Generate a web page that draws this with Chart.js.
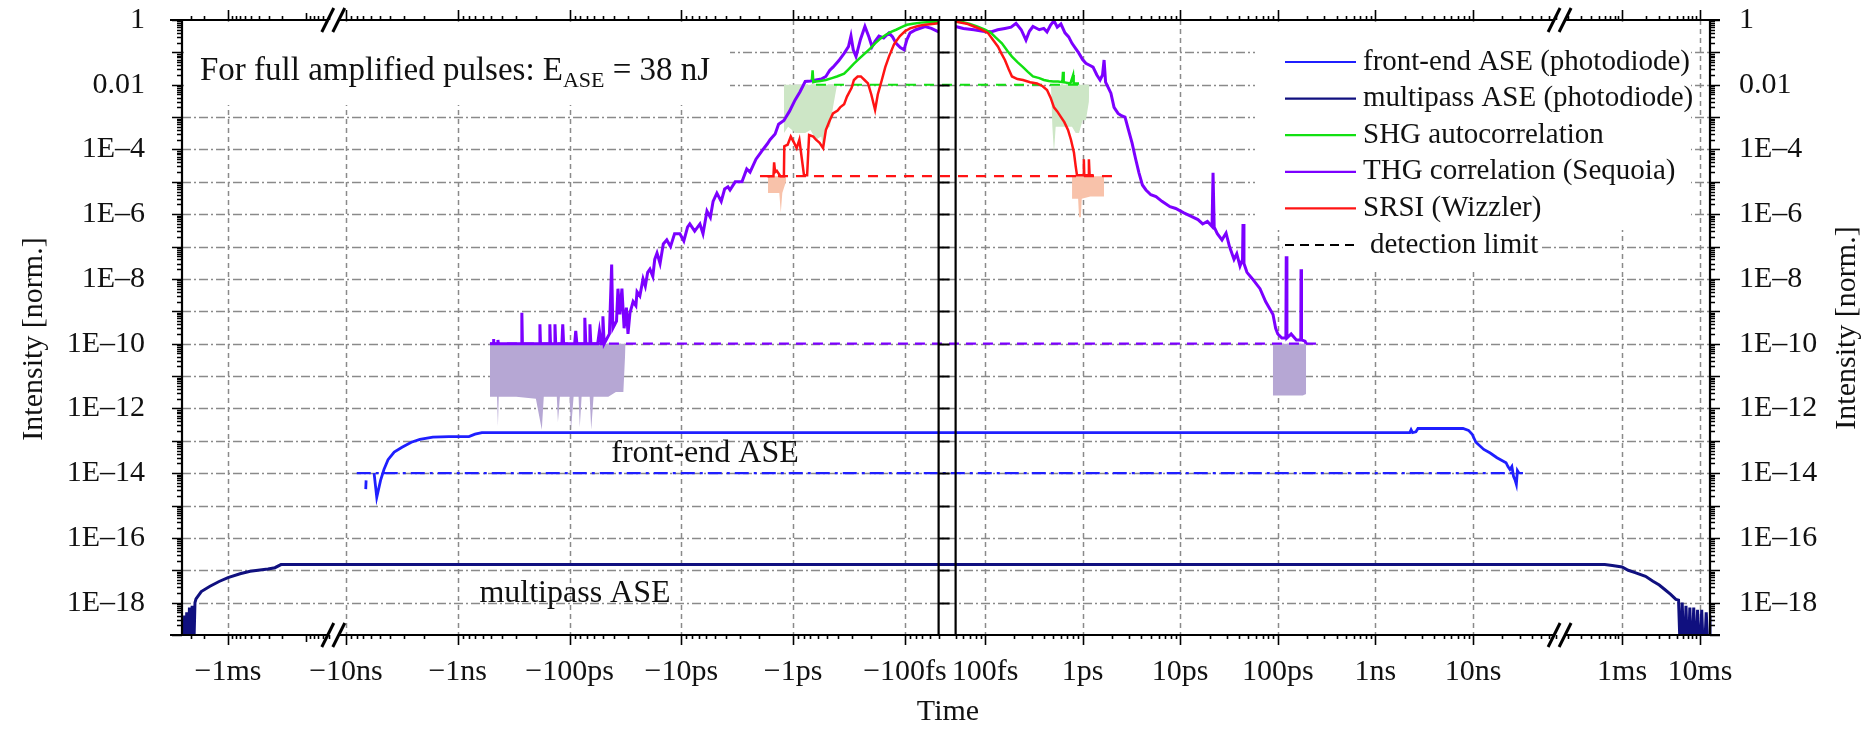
<!DOCTYPE html>
<html>
<head>
<meta charset="utf-8">
<script src="https://cdn.jsdelivr.net/npm/chart.js@4.4.1/dist/chart.umd.min.js"></script>
<style>
html,body{margin:0;padding:0;background:#fff;}
canvas{display:block;}
</style>
</head>
<body>
<canvas id="c" width="1876" height="729"></canvas>
<script>
// ---------------- DATA (time in ps, intensity normalised) ----------------
const xTickTimes  = [-1e9, -1e4, -1e3, -100, -10, -1, -0.1, 0.1, 1, 10, 100, 1e3, 1e4, 1e9, 1e10];
const xTickLabels = ['\u22121ms','\u221210ns','\u22121ns','\u2212100ps','\u221210ps','\u22121ps','\u2212100fs','100fs','1ps','10ps','100ps','1ns','10ns','1ms','10ms'];
const yTickValues = [1,1e-2,1e-4,1e-6,1e-8,1e-10,1e-12,1e-14,1e-16,1e-18];
const yTickLabels = ['1','0.01','1E\u20134','1E\u20136','1E\u20138','1E\u201310','1E\u201312','1E\u201314','1E\u201316','1E\u201318'];
const seriesLabels = ['front-end ASE (photodiode)','multipass ASE (photodiode)','SHG autocorrelation','THG correlation (Sequoia)','SRSI (Wizzler)','detection limit'];

const frontEndASE = [
 [-6650,3.2e-15],[-6600,6e-15],[-6000,null],[-5600,1e-14],[-5300,1.8e-15],[-4900,6e-15],[-4570,1.3e-14],
 [-4200,2.6e-14],[-3700,4.5e-14],[-3150,6.3e-14],[-2600,9e-14],[-2180,1.1e-13],[-1670,1.3e-13],[-1200,1.35e-13],
 [-794,1.35e-13],[-700,1.6e-13],[-608,1.8e-13],[-0.05,1.8e-13],[0.05,1.8e-13],[2250,1.8e-13],[2320,2.2e-13],
 [2400,1.8e-13],[2600,1.9e-13],[2730,2.4e-13],[7900,2.4e-13],[9000,2.1e-13],[9800,1.6e-13],[10700,9e-14],
 [12900,5.4e-14],[15000,4.2e-14],[17600,3e-14],[21800,2.1e-14],[22800,1.6e-14],[23900,1.3e-14],[25000,1.6e-14],
 [26000,8e-15],[26900,6.3e-15],[27800,4.5e-15],[28500,1.2e-14],[29600,1e-14]
];
const multipassASE = [
 [-3.7e9,1e-20],[-3.6e9,4e-19],[-3.5e9,1e-20],[-3.38e9,5e-19],[-3.25e9,1e-20],[-3.12e9,7e-19],[-3.0e9,1e-20],
 [-2.88e9,8e-19],[-2.75e9,3e-20],[-2.65e9,1e-18],[-2.57e9,1.3e-18],[-2.2e9,2.2e-18],[-1.7e9,3.2e-18],[-1.3e9,4.5e-18],
 [-1.0e9,5.9e-18],[-7e8,7.8e-18],[-5.2e8,9.3e-18],[-3.07e8,1.1e-17],[-2.5e8,1.2e-17],[-2.09e8,1.5e-17],[-4.4e7,1.5e-17],
 [-1.28e4,1.5e-17],[-0.05,1.5e-17],[0.05,1.5e-17],[7.8e4,1.5e-17],[1.6e8,1.5e-17],[6.0e8,1.5e-17],[7.5e8,1.4e-17],
 [1.0e9,1.26e-17],[1.2e9,1.0e-17],[1.47e9,8.5e-18],[2.0e9,6.5e-18],[2.49e9,4.6e-18],[3.0e9,3.5e-18],[3.56e9,2.5e-18],
 [4.2e9,1.8e-18],[4.9e9,1.26e-18],[5.3e9,1.2e-18],[5.6e9,2e-20],[5.9e9,1e-18],[6.3e9,1e-20],[6.6e9,8e-19],[7.0e9,1e-20],
 [7.4e9,7e-19],[7.8e9,1e-20],[8.3e9,7e-19],[8.8e9,1e-20],[9.3e9,6e-19],[9.9e9,1e-20],[1.05e10,6e-19],[1.12e10,1e-20],
 [1.2e10,5e-19],[1.3e10,1e-20],[1.4e10,4e-19],[1.5e10,1e-20]
];
const shg = [
 [-0.68,0.014],[-0.67,0.028],[-0.66,0.012],[-0.625,0.0126],[-0.57,0.013],[-0.51,0.014],[-0.45,0.016],[-0.406,0.018],
 [-0.35,0.022],[-0.32,0.03],[-0.286,0.045],[-0.255,0.065],[-0.228,0.093],[-0.205,0.13],[-0.185,0.19],[-0.165,0.27],
 [-0.148,0.35],[-0.133,0.43],[-0.12,0.5],[-0.105,0.62],[-0.096,0.71],[-0.085,0.77],[-0.072,0.83],[-0.06,0.87],[-0.05,0.89],
 [0,null],
 [0.05,0.89],[0.06,0.85],[0.07,0.75],[0.083,0.63],[0.1,0.5],[0.115,0.4],[0.13,0.28],[0.149,0.19],[0.17,0.11],[0.189,0.074],
 [0.215,0.05],[0.245,0.035],[0.275,0.025],[0.31,0.018],[0.36,0.016],[0.402,0.014],[0.45,0.013],[0.5,0.0126],[0.56,0.0126],
 [0.62,0.012],[0.63,0.025],[0.64,0.012],[0.75,0.011],[0.8,0.02],[0.81,0.011],[0.919,0.011]
];
const thg = [
 [-515,1e-10],[-480,1e-10],[-478,1.4e-10],[-476,1e-10],[-440,1e-10],[-437,1.3e-10],[-434,1e-10],[-400,1e-10],[-340,1e-10],
 [-270,1e-10],[-267,9e-10],[-264,1e-10],[-230,1e-10],[-186,1e-10],[-184,4e-10],[-182,1e-10],[-152,1e-10],[-150,4e-10],
 [-148,1e-10],[-137,1e-10],[-135,4e-10],[-133,1e-10],[-117,1e-10],[-115,4e-10],[-113,1e-10],[-90,1e-10],[-88,2.5e-10],
 [-86,1e-10],[-74,1e-10],[-73,6.3e-10],[-71.5,1e-10],[-66.5,1e-10],[-65.7,4e-10],[-64.5,1e-10],[-56,1e-10],[-54,2.5e-10],
 [-52,1e-10],[-50.5,1e-10],[-50.3,7e-10],[-49,1e-10],[-44,2e-10],[-42,2.8e-8],[-41,3e-10],[-38,5e-10],[-36.9,5e-9],
 [-35.5,8e-10],[-34,5e-9],[-32.5,3e-10],[-31,1.3e-9],[-30,2e-10],[-28.8,9e-10],[-27,2e-9],[-25.5,1.5e-9],[-24.9,4e-9],
 [-23.5,3e-9],[-22,1e-8],[-21,6e-9],[-20,1.6e-8],[-19.1,2e-8],[-18,1.2e-8],[-17.3,4e-8],[-16.5,6.3e-8],[-15.5,3e-8],
 [-14.5,1.2e-7],[-13.5,1.6e-7],[-12.5,1e-7],[-11.5,2.5e-7],[-10.3,2.5e-7],[-9.5,1.5e-7],[-8.8,4e-7],[-8.4,5e-7],[-7.6,3e-7],
 [-6.82,5e-7],[-6.4,2.5e-7],[-5.9,1.26e-6],[-5.5,8e-7],[-5.2,2.5e-6],[-4.81,4.5e-6],[-4.4,2.5e-6],[-4.1,6e-6],[-3.83,7e-6],
 [-3.67,5.6e-6],[-3.3,1e-5],[-2.99,1e-5],[-2.87,1e-5],[-2.6,2.5e-5],[-2.43,2e-5],[-2.15,5e-5],[-1.95,8e-5],[-1.86,1e-4],
 [-1.7,1.5e-4],[-1.61,2e-4],[-1.45,3e-4],[-1.35,6e-4],[-1.21,7.9e-4],[-1.08,1.5e-3],[-0.96,3.4e-3],[-0.87,6e-3],
 [-0.78,1.26e-2],[-0.7,1.3e-2],[-0.625,1.4e-2],[-0.56,1.5e-2],[-0.51,1.8e-2],[-0.47,2.8e-2],[-0.44,3.5e-2],[-0.39,5.6e-2],
 [-0.35,9.3e-2],[-0.32,0.15],[-0.304,0.32],[-0.29,0.12],[-0.274,0.074],[-0.25,0.25],[-0.228,0.63],[-0.21,0.3],[-0.197,0.15],
 [-0.185,0.22],[-0.171,0.32],[-0.155,0.28],[-0.139,0.4],[-0.129,0.3],[-0.12,0.19],[-0.11,0.14],[-0.102,0.12],[-0.096,0.25],
 [-0.09,0.4],[-0.08,0.5],[-0.066,0.63],[-0.058,0.55],[-0.05,0.43],
 [0,null],
 [0.05,0.63],[0.06,0.55],[0.077,0.5],[0.095,0.45],[0.115,0.43],[0.135,0.5],[0.16,0.55],[0.185,0.6],[0.208,0.79],[0.235,0.5],
 [0.263,0.24],[0.285,0.45],[0.31,0.63],[0.36,0.5],[0.4,0.55],[0.432,0.43],[0.47,0.7],[0.509,0.95],[0.55,0.6],[0.6,0.75],
 [0.66,0.4],[0.72,0.3],[0.779,0.19],[0.85,0.13],[0.919,0.093],[1.0,0.06],[1.08,0.046],[1.18,0.04],[1.28,0.035],[1.4,0.02],
 [1.51,0.014],[1.6,0.02],[1.66,0.058],[1.72,0.012],[1.95,0.0055],[2.1,0.002],[2.31,0.0013],[2.5,0.0011],[2.72,0.001],
 [2.95,4e-4],[3.21,1.6e-4],[3.5,5e-5],[3.78,1.9e-5],[4.1,8e-6],[4.46,5.6e-6],[5.0,4e-6],[5.65,3.5e-6],[6.5,2.5e-6],
 [7.86,1.7e-6],[9.0,1.5e-6],[10.9,1.1e-6],[12.5,9e-7],[15.2,6.8e-7],[17,5e-7],[19,6e-7],[21.2,4.2e-7],[21.7,1.9e-5],
 [22.3,4e-7],[24,2.5e-7],[26.8,1.6e-7],[28,2e-7],[29.5,2.6e-7],[32,1e-7],[35.6,4e-8],[38,6e-8],[41,2.5e-8],[43.5,4e-8],
 [44,5e-7],[45,3e-8],[48.3,1.6e-8],[55,1e-8],[65.7,5e-9],[75,2e-9],[89.3,8e-10],[95,3e-10],[100,2e-10],[110,1.5e-10],
 [121,1.5e-10],[122,5e-8],[124,1.5e-10],[137,2e-10],[155,1.3e-10],[172,1.3e-10],[173,2e-8],[175,1.3e-10],[190,1.2e-10],[195,1e-10]
];
const srsi = [
 [-1.7,1.5e-5],[-1.5,1.5e-5],[-1.48,4e-5],[-1.45,2e-5],[-1.4,2.2e-5],[-1.3,1.5e-5],[-1.21,1.5e-5],[-1.2,1.26e-4],
 [-1.12,1.4e-4],[-1.05,2.5e-4],[-0.98,1.6e-4],[-0.93,1.1e-4],[-0.88,2e-4],[-0.8,1.6e-5],[-0.75,1.6e-5],[-0.72,2.8e-4],
 [-0.66,2.5e-4],[-0.625,2e-4],[-0.58,1.6e-4],[-0.54,1.1e-4],[-0.51,4e-4],[-0.47,8e-4],[-0.44,1.3e-3],[-0.4,1.6e-3],
 [-0.38,2e-3],[-0.35,2.5e-3],[-0.33,4.3e-3],[-0.3,8e-3],[-0.286,0.014],[-0.265,0.018],[-0.248,0.018],[-0.23,0.014],
 [-0.214,0.011],[-0.2,0.005],[-0.185,0.00166],[-0.175,0.005],[-0.161,0.014],[-0.15,0.035],[-0.139,0.074],[-0.125,0.18],
 [-0.111,0.32],[-0.1,0.45],[-0.09,0.55],[-0.075,0.66],[-0.066,0.71],[-0.05,0.79],
 [0,null],
 [0.05,0.89],[0.065,0.77],[0.077,0.63],[0.09,0.52],[0.107,0.4],[0.12,0.25],[0.136,0.15],[0.148,0.09],[0.16,0.058],
 [0.175,0.03],[0.189,0.018],[0.215,0.015],[0.245,0.014],[0.29,0.012],[0.341,0.011],[0.39,0.009],[0.432,0.0069],[0.47,0.004],
 [0.509,0.002],[0.55,0.0015],[0.601,0.001],[0.65,7e-4],[0.709,4e-4],[0.76,2e-4],[0.816,7.9e-5],[0.85,3e-5],[0.876,1.6e-5],
 [1.02,1.6e-5],[1.03,5e-5],[1.04,1.6e-5],[1.15,1.6e-5],[1.16,5e-5],[1.18,1.6e-5],[1.3,1.6e-5]
];
// noise below the detection limits (lower envelopes)
const thgNoiseLeft = [
 [-515,2.3e-12],[-470,2.3e-12],[-445,2.3e-12],[-437,2.8e-13],[-430,2.3e-12],[-300,2.3e-12],[-200,2.0e-12],[-177,2.2e-13],
 [-170,2.3e-12],[-130,2.3e-12],[-127,3.8e-13],[-122,2.3e-12],[-100,2.3e-12],[-97,2.2e-13],[-92,2.3e-12],[-83,2.3e-12],
 [-81,2.6e-13],[-78,2.3e-12],[-66,2.3e-12],[-64,2.2e-13],[-61,2.3e-12],[-45,2.3e-12],[-38.5,3.2e-12],[-33,3.2e-12],[-31.5,1e-10]
];
const thgNoiseRight = [[89,2.5e-12],[120,2.5e-12],[150,2.5e-12],[180,2.5e-12],[195,2.8e-12]];
const shgNoiseLeft = [
 [-1.21,3.2e-4],[-1.11,5e-4],[-0.95,3.2e-4],[-0.78,3.2e-4],[-0.7,4e-4],[-0.625,2e-4],[-0.56,2.5e-4],[-0.54,1e-4],
 [-0.52,4e-4],[-0.469,5e-4],[-0.44,2e-3],[-0.405,0.01]
];
const shgNoiseRight = [
 [0.474,0.01],[0.49,5e-4],[0.509,7.9e-5],[0.53,5e-4],[0.601,5e-4],[0.7,5e-4],[0.779,5e-4],[0.85,3.2e-4],[0.919,3.2e-4],
 [1.0,8e-4],[1.08,8e-4],[1.16,0.003],[1.17,0.01]
];
const srsiNoiseLeft  = [[-1.68,4.5e-6],[-1.45,4.5e-6],[-1.33,4.5e-6],[-1.29,1.1e-6],[-1.25,4.5e-6],[-1.16,1e-5]];
const srsiNoiseRight = [[0.78,3e-6],[0.9,3e-6],[0.92,8e-7],[0.96,8e-7],[0.98,3e-6],[1.2,3.5e-6],[1.5,3.5e-6],[1.66,3.5e-6]];
// detection limits
const feLimit   = [[-8000,1e-14],[32500,1e-14]];
const thgLimit  = [[-515,1e-10],[277,1e-10]];
const shgLimit  = [[-0.625,0.01],[0.919,0.01]];
const srsiLimit = [[-1.98,1.5e-5],[2.25,1.5e-5]];

// ---------------- broken time axis ----------------
const U_MIN = -8.227, U_MAX = 7.428;
function timeToUnit(t){
  const a = Math.abs(t);
  if (a <= 0.05) return -0.3881 + (t/0.05)*0.0871;
  if (t > 0){
    if (t <= 7.8e4) return Math.log10(t/0.1);
    if (t < 1.6e8) return 5.892;
    return 6.527 + 0.799*Math.log10(t/1e9);
  }
  if (a <= 1.28e4) return -0.820 - 1.1455*Math.log10(a/0.1);
  if (a < 4.4e7) return -6.670;
  return -7.756 - 0.799*Math.log10(a/1e9);
}
class BrokenTimeScale extends Chart.LinearScale {
  static id = 'brokentime';
  buildTicks(){ return xTickTimes.map(v => ({value: v})); }
  getPixelForValue(v){ return this.getPixelForDecimal((timeToUnit(v) - U_MIN)/(U_MAX - U_MIN)); }
}
Chart.register(BrokenTimeScale);

const FONT = '"Liberation Serif", "Times New Roman", serif';
const C = {fe:'#1f1fff', mp:'#10107f', shg:'#12e012', thg:'#7c00ff', srsi:'#ff1414',
           thgFill:'#b6a7d4', shgFill:'#cde6c6', srsiFill:'#f8c2aa'};
const pts = a => a.map(([t,v]) => ({x:t, y:v}));

const deco = {
  id:'deco',
  beforeDatasetsDraw(chart){
    const {ctx, chartArea:a, scales:{x, y}} = chart;
    ctx.save();
    ctx.strokeStyle = '#8a8a8a'; ctx.lineWidth = 1.5;
    ctx.setLineDash([9,3,2,3]);
    for (let e=-1; e>=-18; e--){
      const py = Math.round(y.getPixelForValue(10**e)) + 0.5;
      ctx.beginPath(); ctx.moveTo(a.left, py); ctx.lineTo(a.right, py); ctx.stroke();
    }
    ctx.setLineDash([5,4]);
    xTickTimes.forEach(t => {
      const px = Math.round(x.getPixelForValue(t)) + 0.5;
      ctx.beginPath(); ctx.moveTo(px, a.top); ctx.lineTo(px, a.bottom); ctx.stroke();
    });
    ctx.setLineDash([]);
    // white boxes (annotation + legend)
    ctx.fillStyle = '#fff';
    ctx.fillRect(a.left+2, a.top+2, 546, 83);
    ctx.fillRect(1255, a.top+2, 436, 208);
    ctx.fillRect(1283, 228, 258, 40);
    // in-plot labels
    ctx.font = '32px ' + FONT; ctx.textAlign = 'center'; ctx.textBaseline = 'middle';
    ctx.fillStyle = '#111';
    ctx.fillText('front-end ASE', 705, 454);
    ctx.fillText('multipass ASE', 575, 594);
    ctx.restore();
  },
  afterDatasetsDraw(chart){
    const {ctx, chartArea:a, scales:{x, y}} = chart;
    ctx.save();
    ctx.strokeStyle = '#000'; ctx.fillStyle = '#000';
    // y ticks (both sides)
    ctx.lineWidth = 1.6;
    for (let e=-19; e<=0; e++) for (let m=1; m<=9; m++){
      const v = m*10**e; if (v < 1e-19 || v > 1) continue;
      const py = Math.round(y.getPixelForValue(v)) + 0.5;
      const len = m === 1 ? 10 : 5;
      ctx.beginPath(); ctx.moveTo(a.left, py); ctx.lineTo(a.left - len, py);
      ctx.moveTo(a.right, py); ctx.lineTo(a.right + len, py); ctx.stroke();
    }
    // x ticks (top & bottom)
    const xt = [];
    for (let e=-2; e<=10; e++) for (let m=1; m<=9; m++){
      const t = m*10**e;
      if ((t>=0.05 && t<=7.8e4) || (t>=1.6e8 && t<=1.5e10)) xt.push([t, m]);
      if ((t>=0.05 && t<=1.28e4) || (t>=4.4e7 && t<=3.77e9)) xt.push([-t, m]);
    }
    xt.forEach(([t, m]) => {
      const px = Math.round(x.getPixelForValue(t)) + 0.5;
      if (px < a.left || px > a.right) return;
      const len = xTickTimes.includes(t) ? 10 : (m === 1 ? 7 : 4);
      ctx.beginPath(); ctx.moveTo(px, a.top); ctx.lineTo(px, a.top - len);
      ctx.moveTo(px, a.bottom); ctx.lineTo(px, a.bottom + len); ctx.stroke();
    });
    // frame with breaks
    const bL = x.getPixelForValue(-4.4e7), bR = x.getPixelForValue(7.8e4);
    ctx.lineWidth = 2.2;
    [a.top, a.bottom].forEach(py => {
      ctx.beginPath();
      ctx.moveTo(a.left - 12, py); ctx.lineTo(bL - 6, py);
      ctx.moveTo(bL + 6, py); ctx.lineTo(bR - 6, py);
      ctx.moveTo(bR + 6, py); ctx.lineTo(a.right + 10, py);
      ctx.stroke();
    });
    ctx.beginPath(); ctx.moveTo(a.left, a.top); ctx.lineTo(a.left, a.bottom);
    ctx.moveTo(a.right, a.top); ctx.lineTo(a.right, a.bottom); ctx.stroke();
    ctx.lineWidth = 3;
    [bL, bR].forEach(bx => [a.top, a.bottom].forEach(py => {
      [-6, 5].forEach(o => {
        ctx.beginPath(); ctx.moveTo(bx + o - 6, py + 12); ctx.lineTo(bx + o + 6, py - 12); ctx.stroke();
      });
    }));
    // central box (t = 0 region)
    const cL = x.getPixelForValue(-0.05), cR = x.getPixelForValue(0.05);
    ctx.lineWidth = 2.2;
    ctx.beginPath(); ctx.moveTo(cL, a.top); ctx.lineTo(cL, a.bottom); ctx.moveTo(cR, a.top); ctx.lineTo(cR, a.bottom); ctx.stroke();
    ctx.lineWidth = 2;
    for (let e=-1; e>=-18; e--){
      const py = Math.round(y.getPixelForValue(10**e)) + 0.5;
      ctx.beginPath(); ctx.moveTo(cL, py); ctx.lineTo(cL + 11, py); ctx.stroke();
    }
    // legend
    const styles = [[C.fe,[]],[C.mp,[]],[C.shg,[]],[C.thg,[]],[C.srsi,[]],['#000',[9,6]]];
    ctx.font = '29px ' + FONT; ctx.textAlign = 'left'; ctx.textBaseline = 'middle';
    seriesLabels.forEach((s, i) => {
      const ly = 62 + i*36.6;
      ctx.strokeStyle = styles[i][0]; ctx.lineWidth = 2.2; ctx.setLineDash(styles[i][1]);
      ctx.beginPath(); ctx.moveTo(1285, ly); ctx.lineTo(1356, ly); ctx.stroke();
      ctx.setLineDash([]);
      ctx.fillStyle = '#111'; ctx.fillText(s, i === 5 ? 1370 : 1363, ly);
    });
    // annotation
    ctx.fillStyle = '#111'; ctx.font = '33px ' + FONT; ctx.textBaseline = 'alphabetic';
    let tx = 200; const base = 80;
    const p1 = 'For full amplified pulses: E';
    ctx.fillText(p1, tx, base); tx += ctx.measureText(p1).width;
    ctx.font = '22px ' + FONT; ctx.fillText('ASE', tx, base + 7); tx += ctx.measureText('ASE').width;
    ctx.font = '33px ' + FONT; ctx.fillText(' = 38 nJ', tx, base);
    // axis titles
    ctx.font = '30px ' + FONT; ctx.textAlign = 'center'; ctx.textBaseline = 'middle';
    ctx.fillText('Time', 948, 712);
    [[34, 339], [1847, 328]].forEach(([cx, cy]) => {
      ctx.save(); ctx.translate(cx, cy); ctx.rotate(-Math.PI/2);
      ctx.fillText('Intensity [norm.]', 0, 0); ctx.restore();
    });
    ctx.restore();
  }
};

const line = (label, data, color, width, order, extra) => Object.assign({
  label, data: pts(data), borderColor: color, borderWidth: width, pointRadius: 0,
  fill: false, tension: 0, spanGaps: false, order
}, extra || {});
const noise = (data, color, level) => ({
  label: 'noise', data: pts(data), borderWidth: 0, borderColor: 'rgba(0,0,0,0)', backgroundColor: color,
  pointRadius: 0, fill: {value: level}, tension: 0, order: 20
});
const noPad = s => { s.paddingTop = 0; s.paddingBottom = 0; s.paddingLeft = 0; s.paddingRight = 0; };

new Chart(document.getElementById('c'), {
  type: 'line',
  data: { datasets: [
    line(seriesLabels[0], frontEndASE, C.fe, 2.8, 6),
    line(seriesLabels[1], multipassASE, C.mp, 3, 6),
    line(seriesLabels[2], shg, C.shg, 2.5, 2),
    line(seriesLabels[3], thg, C.thg, 3, 3),
    line(seriesLabels[4], srsi, C.srsi, 2.5, 1),
    line('fe limit', feLimit, C.fe, 2.2, 8, {borderDash:[14,5,3,5]}),
    line('thg limit', thgLimit, C.thg, 2.2, 8, {borderDash:[10,7]}),
    line('shg limit', shgLimit, C.shg, 2.2, 4, {borderDash:[10,8]}),
    line('srsi limit', srsiLimit, C.srsi, 2.2, 4, {borderDash:[10,8]}),
    noise(thgNoiseLeft, C.thgFill, 1e-10),
    noise(thgNoiseRight, C.thgFill, 1e-10),
    noise(shgNoiseLeft, C.shgFill, 0.01),
    noise(shgNoiseRight, C.shgFill, 0.01),
    noise(srsiNoiseLeft, C.srsiFill, 1.5e-5),
    noise(srsiNoiseRight, C.srsiFill, 1.5e-5)
  ]},
  options: {
    responsive: false, animation: false, devicePixelRatio: 1, events: [],
    layout: { padding: {top: 20, left: 0, right: 0, bottom: 0} },
    plugins: { legend: {display: false}, tooltip: {enabled: false} },
    scales: {
      x: {
        type: 'brokentime', position: 'bottom',
        grid: {display: false}, border: {display: false},
        afterFit: s => { s.height = 94; noPad(s); },
        ticks: { autoSkip: false, maxRotation: 0, minRotation: 0, padding: 11, color: '#111',
                 font: {family: FONT, size: 30}, callback: (v, i) => xTickLabels[i] }
      },
      y: {
        type: 'logarithmic', position: 'left', min: 1e-19, max: 1,
        grid: {display: false}, border: {display: false},
        afterBuildTicks: s => { s.ticks = yTickValues.map(v => ({value: v})); },
        afterFit: s => { s.width = 182; noPad(s); },
        ticks: { autoSkip: false, padding: 29, color: '#111', font: {family: FONT, size: 30},
                 callback: (v, i) => yTickLabels[i] }
      },
      y2: {
        type: 'logarithmic', position: 'right', min: 1e-19, max: 1,
        grid: {display: false}, border: {display: false},
        afterBuildTicks: s => { s.ticks = yTickValues.map(v => ({value: v})); },
        afterFit: s => { s.width = 166; noPad(s); },
        ticks: { autoSkip: false, padding: 21, color: '#111', font: {family: FONT, size: 30},
                 callback: (v, i) => yTickLabels[i] }
      }
    }
  },
  plugins: [deco]
});
</script>
</body>
</html>
